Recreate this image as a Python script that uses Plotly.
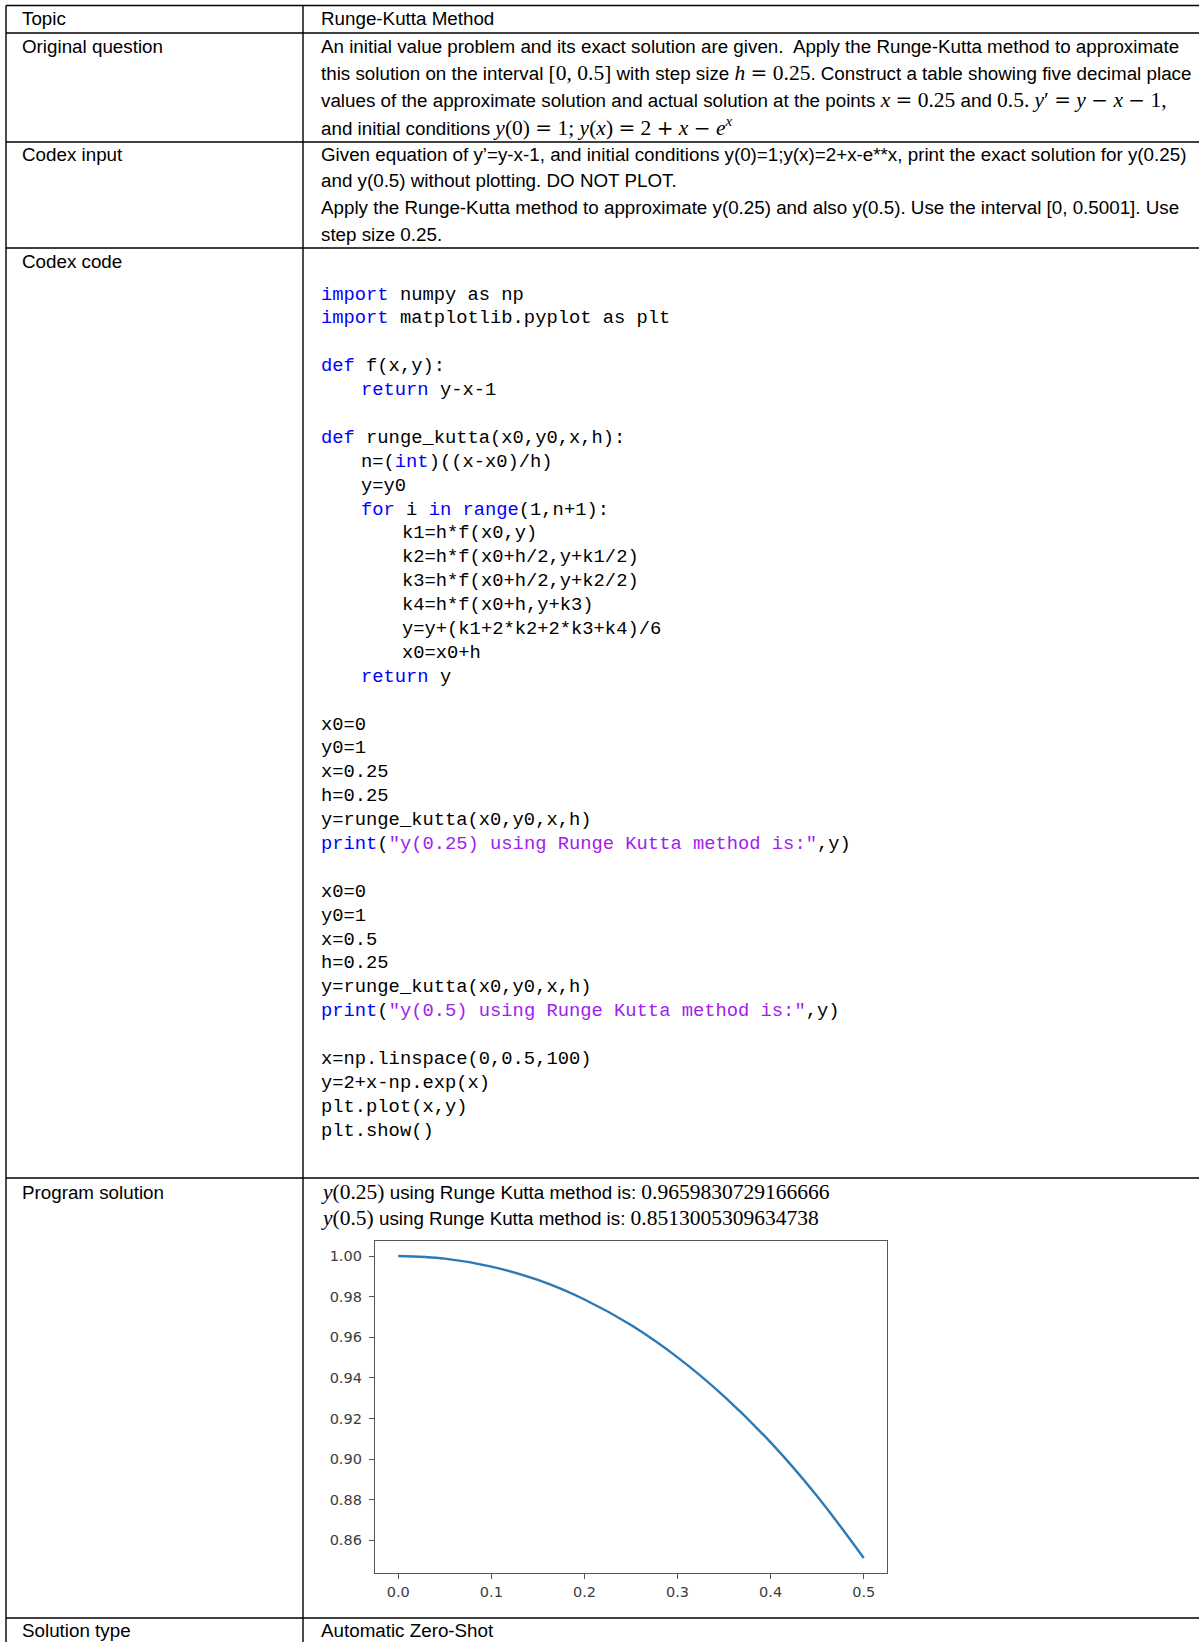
import re
import plotly.graph_objects as go

W, H = 1199, 1642

# ---------------- content ----------------
row_labels = ["Topic", "Original question", "Codex input", "Codex code",
              "Program solution", "Solution type"]
topic_text = "Runge-Kutta Method"

SERIF = "Liberation Serif"


def M(s):
    for op in ["=", "+", "−"]:
        s = s.replace(" %s " % op,
                      " <span style='font-family:DejaVu Serif;font-size:20px'>%s</span> " % op)
    return "<span style='font-family:%s;font-size:21.5px'>%s</span>" % (SERIF, s)


question_lines = [
    "An initial value problem and its exact solution are given.  Apply the Runge-Kutta method to approximate",
    "this solution on the interval " + M("[0, 0.5]") + " with step size " + M("<i>h</i> = 0.25")
    + ". Construct a table showing five decimal place",
    "values of the approximate solution and actual solution at the points " + M("<i>x</i> = 0.25")
    + " and " + M("0.5.") + " " + M("<i>y</i>′ = <i>y</i> − <i>x</i> − 1,"),
    "and initial conditions " + M("<i>y</i>(0) = 1; <i>y</i>(<i>x</i>) = 2 + <i>x</i> − <i>e</i><sup><i>x</i></sup>"),
]

codex_input_lines = [
    "Given equation of y’=y-x-1, and initial conditions y(0)=1;y(x)=2+x-e**x, print the exact solution for y(0.25)",
    "and y(0.5) without plotting. DO NOT PLOT.",
    "Apply the Runge-Kutta method to approximate y(0.25) and also y(0.5). Use the interval [0, 0.5001]. Use",
    "step size 0.25.",
]

code_lines = [
    "import numpy as np",
    "import matplotlib.pyplot as plt",
    "",
    "def f(x,y):",
    "    return y-x-1",
    "",
    "def runge_kutta(x0,y0,x,h):",
    "    n=(int)((x-x0)/h)",
    "    y=y0",
    "    for i in range(1,n+1):",
    "        k1=h*f(x0,y)",
    "        k2=h*f(x0+h/2,y+k1/2)",
    "        k3=h*f(x0+h/2,y+k2/2)",
    "        k4=h*f(x0+h,y+k3)",
    "        y=y+(k1+2*k2+2*k3+k4)/6",
    "        x0=x0+h",
    "    return y",
    "",
    "x0=0",
    "y0=1",
    "x=0.25",
    "h=0.25",
    "y=runge_kutta(x0,y0,x,h)",
    'print("y(0.25) using Runge Kutta method is:",y)',
    "",
    "x0=0",
    "y0=1",
    "x=0.5",
    "h=0.25",
    "y=runge_kutta(x0,y0,x,h)",
    'print("y(0.5) using Runge Kutta method is:",y)',
    "",
    "x=np.linspace(0,0.5,100)",
    "y=2+x-np.exp(x)",
    "plt.plot(x,y)",
    "plt.show()",
]
keywords = ["import", "def", "return", "int", "for", "in", "range", "print"]

print_args = ["0.25", "0.5"]
print_values = ["0.9659830729166666", "0.8513005309634738"]
solution_type = "Automatic Zero-Shot"

# curve values
curve_x = [0.0, 0.05, 0.1, 0.15, 0.2, 0.25, 0.3, 0.35, 0.4, 0.45, 0.5]
curve_y = [1.000, 0.9987, 0.9948, 0.9882, 0.9786, 0.9660, 0.9501, 0.9309, 0.9082, 0.8817, 0.8513]
xtick_vals = [0.0, 0.1, 0.2, 0.3, 0.4, 0.5]
xtick_text = ["0.0", "0.1", "0.2", "0.3", "0.4", "0.5"]
ytick_vals = [0.86, 0.88, 0.90, 0.92, 0.94, 0.96, 0.98, 1.00]
ytick_text = ["0.86", "0.88", "0.90", "0.92", "0.94", "0.96", "0.98", "1.00"]

# ---------------- helpers ----------------
def PX(x):
    return x / W


def PY(y):
    return 1 - y / H


SANS = "Liberation Sans, Arial, sans-serif"
MONO = "Liberation Mono, monospace"
SANS_SIZE = 18.8
KW_COLOR = "#0000ff"
STR_COLOR = "#a020f0"

annotations = []
shapes = []


def add_text(x, y, text, family=SANS, size=SANS_SIZE, color="black"):
    annotations.append(dict(
        x=PX(x - 2), y=PY(y), xref="paper", yref="paper", text=text,
        showarrow=False, xanchor="left", yanchor="middle",
        font=dict(family=family, size=size, color=color),
    ))


def colorize(code):
    out = []
    pos = 0
    pattern = re.compile(r'"[^"]*"|[A-Za-z_][A-Za-z_0-9]*')
    for m in pattern.finditer(code):
        out.append(code[pos:m.start()])
        tok = m.group(0)
        if tok.startswith('"'):
            out.append("<span style='color:%s'>%s</span>" % (STR_COLOR, tok))
        elif tok in keywords:
            out.append("<span style='color:%s'>%s</span>" % (KW_COLOR, tok))
        else:
            out.append(tok)
        pos = m.end()
    out.append(code[pos:])
    return "".join(out)


# ---------------- table rules ----------------
hlines = [5.5, 33, 142, 248, 1178, 1618]
vlines = [6, 303]
for yy in hlines:
    shapes.append(dict(type="line", xref="paper", yref="paper",
                       x0=PX(6), x1=1, y0=PY(yy), y1=PY(yy),
                       line=dict(color="black", width=1.4)))
for xx in vlines:
    shapes.append(dict(type="line", xref="paper", yref="paper",
                       x0=PX(xx), x1=PX(xx), y0=PY(5.5), y1=0,
                       line=dict(color="black", width=1.4)))

# ---------------- left column ----------------
label_y = [19, 46.5, 154, 262, 1192, 1630]
for lab, yy in zip(row_labels, label_y):
    add_text(22, yy, lab)

# ---------------- right column ----------------
COL2 = 320.5
add_text(COL2, 19, topic_text)
for i, ln in enumerate(question_lines):
    add_text(COL2, 46.5 + i * 26.8, ln)
for i, ln in enumerate(codex_input_lines):
    add_text(COL2, 154 + i * 26.8, ln)

# code listing
for i, ln in enumerate(code_lines):
    if not ln.strip():
        continue
    indent = (len(ln) - len(ln.lstrip(" "))) // 4
    add_text(COL2 + indent * 40.8, 294.5 + i * 23.89, colorize(ln.strip()),
             family=MONO, size=18.8)

# program output
for i, (arg, val) in enumerate(zip(print_args, print_values)):
    txt = M("<i>y</i>(%s)" % arg) + " using Runge Kutta method is: " + M(val)
    add_text(COL2, 1192 + i * 26, txt)

add_text(COL2, 1630, solution_type)

# ---------------- embedded plot ----------------
fig = go.Figure()
fig.add_trace(go.Scatter(x=curve_x, y=curve_y, mode="lines",
                         line=dict(color="#2a7ab8", width=2.4, shape="spline"),
                         hoverinfo="skip", showlegend=False))

tick_font = dict(family="DejaVu Sans, sans-serif", size=14.5, color="#3c3c3c")
fig.update_layout(
    width=W, height=H,
    margin=dict(l=0, r=0, t=0, b=0),
    paper_bgcolor="white", plot_bgcolor="white",
    shapes=shapes, annotations=annotations,
    xaxis=dict(domain=[PX(375), PX(887)], range=[-0.025, 0.525],
               showgrid=False, zeroline=False, showline=True, mirror=True,
               linecolor="#555555", linewidth=1.3,
               ticks="outside", ticklen=5, tickwidth=1.2, tickcolor="#555555",
               tickvals=xtick_vals, ticktext=xtick_text, tickfont=tick_font),
    yaxis=dict(domain=[PY(1573), PY(1241)], range=[0.8439, 1.0074],
               showgrid=False, zeroline=False, showline=True, mirror=True,
               linecolor="#555555", linewidth=1.3,
               ticks="outside", ticklen=5, tickwidth=1.2, tickcolor="#555555",
               tickvals=ytick_vals, ticktext=ytick_text, tickfont=tick_font,
               ticklabelstandoff=4),
)

fig.write_html("out.html", config={"displayModeBar": False},
               post_script="document.body.style.margin='0';document.body.style.overflow='hidden';")
